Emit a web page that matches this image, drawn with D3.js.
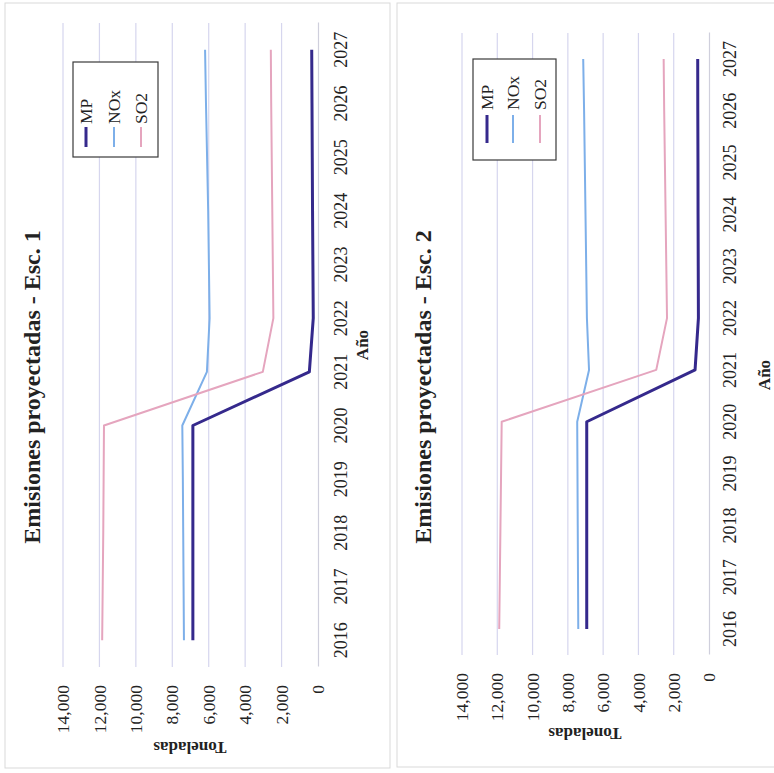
<!DOCTYPE html>
<html lang="es">
<head>
<meta charset="utf-8">
<title>Emisiones proyectadas</title>
<script src="https://cdn.jsdelivr.net/npm/d3@7"></script>
<style>
  html, body { margin: 0; padding: 0; background: #ffffff; }
  svg { display: block; }
  text { font-family: "Liberation Serif", "Times New Roman", serif; fill: #222; }
</style>
</head>
<body>
<svg id="chart" width="774" height="773"></svg>
<script>
// Years on the category axis
const years = ["2016", "2017", "2018", "2019", "2020", "2021", "2022", "2023", "2024", "2025", "2026", "2027"];

// Value axis ticks (toneladas)
const valueTicks = [0, 2000, 4000, 6000, 8000, 10000, 12000, 14000];

// Series names and colours
const seriesNames = ["MP", "NOx", "SO2"];
const seriesColors = ["#35298c", "#7dafe9", "#e5a5be"];
const seriesWidths = [3, 2, 2];

// Escenario 1
const mpEsc1  = [6870, 6870, 6870, 6870, 6870, 475, 260, 280, 300, 315, 330, 345];
const noxEsc1 = [7360, 7380, 7400, 7420, 7450, 6100, 5950, 5990, 6030, 6090, 6150, 6200];
const so2Esc1 = [11850, 11820, 11790, 11770, 11750, 3030, 2450, 2480, 2510, 2540, 2570, 2590];

// Escenario 2
const mpEsc2  = [6930, 6930, 6930, 6930, 6930, 790, 600, 610, 620, 625, 635, 640];
const noxEsc2 = [7410, 7425, 7440, 7455, 7470, 6800, 6920, 6960, 7000, 7040, 7080, 7130];
const so2Esc2 = [11890, 11855, 11820, 11785, 11750, 2990, 2380, 2420, 2460, 2500, 2540, 2570];

const svg = d3.select("#chart");

// Panel frames (each chart is laid out in its own frame, then turned a quarter-turn)
const panels = [
  {
    title: "Emisiones proyectadas - Esc. 1",
    data: [mpEsc1, noxEsc1, so2Esc1],
    border: { x: 5, y: 3, w: 385, h: 765 },
    tx: 5, ty: 768,
    plotL: 101, plotR: 745, yZero: 313, yTop: 58,
    yearLabelY: 335.5, valueLabelEnd: 83,
    ytitle: [21, 185], xtitle: [423, 357], titlePos: [381, 27],
    legend: { x0: 611, x1: 706, y0: 68, y1: 153, rows: [81, 109, 136], l0: 621, l1: 641, tx: 644 }
  },
  {
    title: "Emisiones proyectadas - Esc. 2",
    data: [mpEsc2, noxEsc2, so2Esc2],
    border: { x: 397, y: 3, w: 390, h: 764 },
    tx: 392, ty: 768,
    plotL: 113, plotR: 735, yZero: 317, yTop: 70,
    yearLabelY: 338, valueLabelEnd: 95,
    ytitle: [35, 193], xtitle: [393, 372], titlePos: [381, 31],
    legend: { x0: 608, x1: 709, y0: 81, y1: 164, rows: [95, 121, 148], l0: 625, l1: 653, tx: 658 }
  }
];

panels.forEach(p => {
  // Chart area outline
  svg.append("rect")
    .attr("x", p.border.x).attr("y", p.border.y)
    .attr("width", p.border.w).attr("height", p.border.h)
    .attr("fill", "none").attr("stroke", "#d9d9d9").attr("stroke-width", 1);

  const g = svg.append("g")
    .attr("transform", `translate(${p.tx},${p.ty}) rotate(-90)`);

  const x = d3.scaleBand().domain(years).range([p.plotL, p.plotR]).padding(0);
  const y = d3.scaleLinear().domain([0, 14000]).range([p.yZero, p.yTop]);
  const cx = d => x(d) + x.bandwidth() / 2;

  // Horizontal gridlines
  g.append("g").selectAll("line")
    .data(valueTicks.filter(v => v > 0))
    .join("line")
    .attr("x1", p.plotL).attr("x2", p.plotR)
    .attr("y1", d => y(d)).attr("y2", d => y(d))
    .attr("stroke", "#d6d6ee").attr("stroke-width", 1.2);

  // Value axis (labels only)
  const yAxis = g.append("g")
    .attr("transform", `translate(${p.plotL},0)`)
    .call(d3.axisLeft(y).tickValues(valueTicks).tickFormat(d3.format(","))
      .tickSize(0).tickPadding(p.plotL - p.valueLabelEnd));
  yAxis.select(".domain").remove();
  yAxis.selectAll("text")
    .attr("font-size", 17.5).attr("fill", "#222")
    .style("font-family", "'Liberation Serif', 'Times New Roman', serif");

  // Category axis
  const xAxis = g.append("g")
    .attr("transform", `translate(0,${y(0)})`)
    .call(d3.axisBottom(x).tickSize(0));
  xAxis.select(".domain").attr("stroke", "#cfcfdc").attr("stroke-width", 1.2);
  xAxis.selectAll("text")
    .attr("y", p.yearLabelY - y(0)).attr("dy", "0.35em")
    .attr("font-size", 18).attr("fill", "#222")
    .style("font-family", "'Liberation Serif', 'Times New Roman', serif");

  // Series lines
  const line = d3.line().x((d, i) => cx(years[i])).y(d => y(d));
  p.data.forEach((vals, k) => {
    g.append("path")
      .datum(vals)
      .attr("d", line)
      .attr("fill", "none")
      .attr("stroke", seriesColors[k])
      .attr("stroke-width", seriesWidths[k])
      .attr("stroke-linejoin", "round");
  });

  // Title
  g.append("text")
    .attr("x", p.titlePos[0]).attr("y", p.titlePos[1])
    .attr("text-anchor", "middle").attr("dominant-baseline", "central")
    .attr("font-size", 24).attr("font-weight", "bold").attr("fill", "#1a1a1a")
    .text(p.title);

  // Axis titles
  g.append("text")
    .attr("transform", `translate(${p.ytitle[0]},${p.ytitle[1]}) rotate(-90)`)
    .attr("text-anchor", "middle").attr("dominant-baseline", "central")
    .attr("font-size", 17).attr("font-weight", "bold")
    .text("Toneladas");
  g.append("text")
    .attr("x", p.xtitle[0]).attr("y", p.xtitle[1])
    .attr("text-anchor", "middle").attr("dominant-baseline", "central")
    .attr("font-size", 17).attr("font-weight", "bold")
    .text("Año");

  // Legend
  const L = p.legend;
  g.append("rect")
    .attr("x", L.x0).attr("y", L.y0)
    .attr("width", L.x1 - L.x0).attr("height", L.y1 - L.y0)
    .attr("fill", "#ffffff").attr("stroke", "#3a3a3a").attr("stroke-width", 1.2);
  const items = g.append("g").selectAll("g")
    .data(seriesNames)
    .join("g");
  items.append("line")
    .attr("x1", L.l0).attr("x2", L.l1)
    .attr("y1", (d, i) => L.rows[i]).attr("y2", (d, i) => L.rows[i])
    .attr("stroke", (d, i) => seriesColors[i])
    .attr("stroke-width", (d, i) => seriesWidths[i]);
  items.append("text")
    .attr("x", L.tx).attr("y", (d, i) => L.rows[i])
    .attr("dominant-baseline", "central")
    .attr("font-size", 17.5)
    .text(d => d);
});
</script>
</body>
</html>
